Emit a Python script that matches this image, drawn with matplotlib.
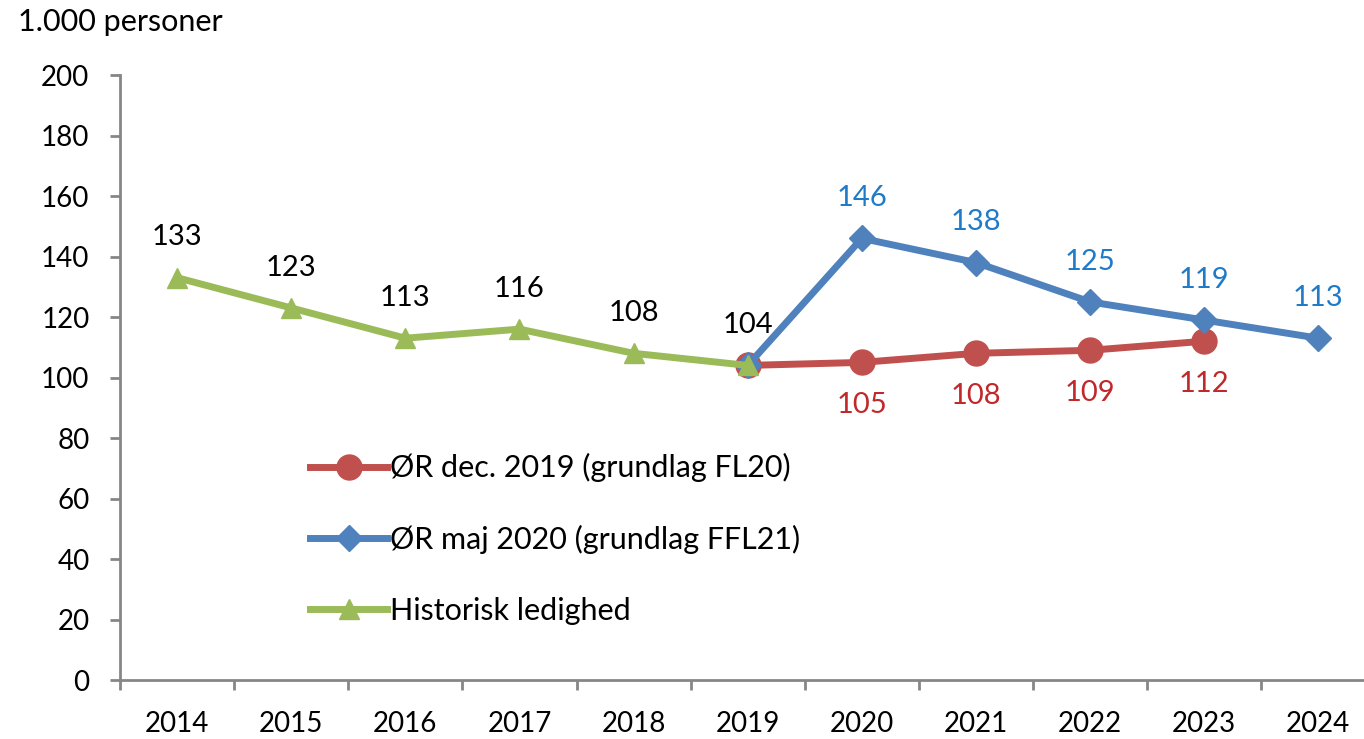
import numpy as np
import matplotlib.pyplot as plt

plt.rcParams['font.family'] = ['Lato', 'DejaVu Sans']

# Data
years = ['2014', '2015', '2016', '2017', '2018', '2019', '2020', '2021', '2022', '2023', '2024']
hist_years = ['2014', '2015', '2016', '2017', '2018', '2019']
hist_vals = [133, 123, 113, 116, 108, 104]
dec19_years = ['2019', '2020', '2021', '2022', '2023']
dec19_vals = [104, 105, 108, 109, 112]
maj20_years = ['2019', '2020', '2021', '2022', '2023', '2024']
maj20_vals = [104, 146, 138, 125, 119, 113]

pos = {y: i for i, y in enumerate(years)}

fig = plt.figure(figsize=(13.64, 7.39), dpi=100)
ax = fig.add_axes([0.088, 0.0798, 0.912, 0.8187])

red, blue, green = '#C0504D', '#4F81BD', '#9BBB59'

x_dec = [pos[y] for y in dec19_years]
x_maj = [pos[y] for y in maj20_years]
x_hist = [pos[y] for y in hist_years]

ax.plot(x_dec, dec19_vals, color=red, lw=5, marker='o', ms=18,
        label='ØR dec. 2019 (grundlag FL20)', zorder=3)
ax.plot(x_maj, maj20_vals, color=blue, lw=5, marker='D', ms=13,
        label='ØR maj 2020 (grundlag FFL21)', zorder=4)
ax.plot(x_hist, hist_vals, color=green, lw=5, marker='^', ms=15,
        label='Historisk ledighed', zorder=5)

# data labels
for x, v in zip(x_hist, hist_vals):
    ax.annotate(str(v), (x, v), xytext=(0, 29), textcoords='offset points',
                ha='center', va='center', fontsize=21, color='black')
for x, v in zip(x_maj[1:], maj20_vals[1:]):
    ax.annotate(str(v), (x, v), xytext=(0, 29), textcoords='offset points',
                ha='center', va='center', fontsize=21, color='#1F7BC8')
for x, v in zip(x_dec[1:], dec19_vals[1:]):
    ax.annotate(str(v), (x, v), xytext=(0, -31), textcoords='offset points',
                ha='center', va='center', fontsize=21, color='#C0282A')

ax.set_ylim(0, 200)
ax.set_yticks(np.arange(0, 201, 20))
ax.set_xlim(-0.5, 10.4)
ax.set_xticks(np.arange(-0.5, 10.5, 1))
ax.set_xticklabels([])
ax.set_xticks(np.arange(len(years)), minor=True)
ax.set_xticklabels(years, minor=True)
ax.tick_params(axis='x', which='minor', length=0, pad=22, labelsize=20)
ax.tick_params(axis='x', which='major', length=7, width=2, color='#868686')
ax.tick_params(axis='y', length=7, width=2, color='#868686', labelsize=20, pad=15)

for s in ['top', 'right']:
    ax.spines[s].set_visible(False)
for s in ['left', 'bottom']:
    ax.spines[s].set_color('#868686')
    ax.spines[s].set_linewidth(2)

fig.text(0.013, 0.97, '1.000 personer', fontsize=22, ha='left', va='center')

ax.legend(loc='upper left', bbox_to_anchor=(0.153, 0.375), frameon=False,
          fontsize=22, handlelength=2.5, handletextpad=0.1, labelspacing=1.4,
          borderaxespad=0, borderpad=0)

fig.savefig('out.png', dpi=100)
